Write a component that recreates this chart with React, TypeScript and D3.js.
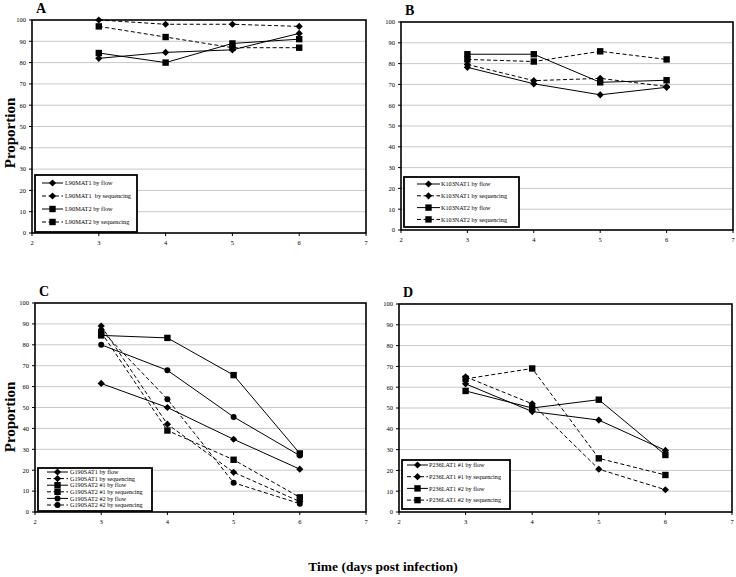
import React from "react";
import * as d3 from "d3";

const days = [3, 4, 5, 6];
const xTicks = [2, 3, 4, 5, 6, 7];
const yTicks = [0, 10, 20, 30, 40, 50, 60, 70, 80, 90, 100];

// Panel A
const namesA = ["L90MAT1 by flow", "L90MAT1  by sequencing", "L90MAT2 by flow", "L90MAT2 by sequencing"];
const a1Flow = [82, 84.8, 86, 93.7];
const a1Seq = [100, 98, 98, 97];
const a2Flow = [84.5, 80, 89, 91];
const a2Seq = [97, 92, 87, 87];

// Panel B
const namesB = ["K103NAT1 by flow", "K103NAT1 by sequencing", "K103NAT2 by flow", "K103NAT2 by sequencing"];
const b1Flow = [78.2, 70.3, 65, 68.6];
const b1Seq = [79.6, 71.8, 72.9, 69];
const b2Flow = [84.5, 84.5, 71, 72];
const b2Seq = [82, 81, 85.9, 82];

// Panel C
const namesC = [
  "G190SAT1 by flow",
  "G190SAT1 by sequencing",
  "G190SAT2 #1 by flow",
  "G190SAT2 #1 by sequencing",
  "G190SAT2 #2 by flow",
  "G190SAT2 #2 by sequencing",
];
const c1Flow = [61.5, 50, 34.8, 20.5];
const c1Seq = [89, 42, 19, 5];
const c2Flow = [84.5, 83.3, 65.5, 28];
const c2Seq = [86, 39, 25, 7];
const c3Flow = [80, 67.8, 45.5, 27];
const c3Seq = [87, 54, 14, 4];

// Panel D
const namesD = ["P236LAT1 #1 by flow", "P236LAT1 #1 by sequencing", "P236LAT1 #2 by flow", "P236LAT1 #2 by sequencing"];
const d1Flow = [61.6, 48.3, 44.2, 29.6];
const d1Seq = [65, 52, 20.6, 10.7];
const d2Flow = [58.2, 50, 54, 27.4];
const d2Seq = [64, 69, 25.8, 17.8];

type Marker = "diamond" | "square" | "circle";
type Series = { name: string; values: number[]; dashed: boolean; marker: Marker };

const mk = (names: string[], vals: number[][], markers: Marker[]): Series[] =>
  names.map((n, i) => ({ name: n, values: vals[i], dashed: i % 2 === 1, marker: markers[i] }));

const FONT = "'Liberation Serif', 'Times New Roman', serif";

function MarkerShape({ type, x, y }: { type: Marker; x: number; y: number }) {
  if (type === "diamond") {
    const s = 3.6;
    return <path d={`M${x},${y - s}L${x + s},${y}L${x},${y + s}L${x - s},${y}Z`} fill="#000" />;
  }
  if (type === "square") {
    const s = 3.2;
    return <rect x={x - s} y={y - s} width={2 * s} height={2 * s} fill="#000" />;
  }
  return <circle cx={x} cy={y} r={3} fill="#000" />;
}

type PanelProps = {
  label: string;
  left: number;
  right: number;
  top: number;
  bottom: number;
  series: Series[];
  legend: { x: number; y: number; w: number; h: number; rowH: number; fs: number; lineX0: number; lineX1: number; textX: number; firstRow: number };
};

function Panel({ label, left, right, top, bottom, series, legend }: PanelProps) {
  const x = d3.scaleLinear().domain([2, 7]).range([left, right]);
  const y = d3.scaleLinear().domain([0, 100]).range([bottom, top]);
  const line = d3
    .line<number>()
    .x((_, i) => x(days[i]))
    .y((v) => y(v));
  return (
    <g>
      {yTicks
        .filter((t) => t > 0 && t < 100)
        .map((t) => (
          <line key={t} x1={left} x2={right} y1={y(t)} y2={y(t)} stroke="#c8c8c8" strokeWidth={1} />
        ))}
      <rect x={left} y={top} width={right - left} height={bottom - top} fill="none" stroke="#000" strokeWidth={1.6} />
      {yTicks.map((t) => (
        <g key={t}>
          <line x1={left - 3} x2={left} y1={y(t)} y2={y(t)} stroke="#000" />
          <text x={left - 6} y={y(t) + 2.3} fontSize={6.5} textAnchor="end" fontFamily={FONT}>
            {t}
          </text>
        </g>
      ))}
      {xTicks.map((t) => (
        <g key={t}>
          <line x1={x(t)} x2={x(t)} y1={bottom} y2={bottom + 3} stroke="#000" />
          <text x={x(t)} y={bottom + 12} fontSize={6.5} textAnchor="middle" fontFamily={FONT}>
            {t}
          </text>
        </g>
      ))}
      <text x={left + 4} y={top - 7} fontSize={14} fontWeight="bold" fontFamily={FONT}>
        {label}
      </text>
      {series.map((s) => (
        <g key={s.name}>
          <path d={line(s.values) || ""} fill="none" stroke="#000" strokeWidth={1} strokeDasharray={s.dashed ? "4,2.5" : undefined} />
          {s.values.map((v, i) => (
            <MarkerShape key={i} type={s.marker} x={x(days[i])} y={y(v)} />
          ))}
        </g>
      ))}
      <rect x={legend.x} y={legend.y} width={legend.w} height={legend.h} fill="#fff" stroke="#000" strokeWidth={1.8} />
      {series.map((s, i) => {
        const ry = legend.firstRow + i * legend.rowH;
        return (
          <g key={s.name}>
            <line x1={legend.lineX0} x2={legend.lineX1} y1={ry} y2={ry} stroke="#000" strokeWidth={1} strokeDasharray={s.dashed ? "4,2.5" : undefined} />
            <MarkerShape type={s.marker} x={(legend.lineX0 + legend.lineX1) / 2} y={ry} />
            <text x={legend.textX} y={ry + 2.2} fontSize={legend.fs} fontFamily={FONT} style={{ whiteSpace: "pre" }}>
              {s.name}
            </text>
          </g>
        );
      })}
    </g>
  );
}

export default function App() {
  const dm: Marker[] = ["diamond", "diamond", "square", "square"];
  const sA = mk(namesA, [a1Flow, a1Seq, a2Flow, a2Seq], dm);
  const sB = mk(namesB, [b1Flow, b1Seq, b2Flow, b2Seq], dm);
  const sC = mk(namesC, [c1Flow, c1Seq, c2Flow, c2Seq, c3Flow, c3Seq], ["diamond", "diamond", "square", "square", "circle", "circle"]);
  const sD = mk(namesD, [d1Flow, d1Seq, d2Flow, d2Seq], dm);
  return (
    <svg width={736} height={577} style={{ position: "absolute", left: 0, top: 0, background: "#fff" }}>
      <rect x={0} y={0} width={736} height={577} fill="#fff" />
      <Panel
        label="A"
        left={32}
        right={366}
        top={20}
        bottom={233}
        series={sA}
        legend={{ x: 35, y: 175, w: 102, h: 57, rowH: 13, fs: 6.3, lineX0: 42, lineX1: 63, textX: 65, firstRow: 183 }}
      />
      <Panel
        label="B"
        left={401}
        right={733}
        top={22}
        bottom={230}
        series={sB}
        legend={{ x: 404, y: 177, w: 115, h: 50, rowH: 11.8, fs: 6.2, lineX0: 417, lineX1: 440, textX: 441, firstRow: 184 }}
      />
      <Panel
        label="C"
        left={35}
        right={366}
        top={303}
        bottom={512}
        series={sC}
        legend={{ x: 38, y: 468, w: 114, h: 43, rowH: 6.6, fs: 6.2, lineX0: 47, lineX1: 68, textX: 70, firstRow: 472 }}
      />
      <Panel
        label="D"
        left={399}
        right={732}
        top={304}
        bottom={512}
        series={sD}
        legend={{ x: 402, y: 460, w: 108, h: 49, rowH: 11.7, fs: 6.2, lineX0: 407, lineX1: 428, textX: 429, firstRow: 465 }}
      />
      <text transform="translate(15,133) rotate(-90)" textAnchor="middle" fontSize={15} fontWeight="bold" fontFamily={FONT}>
        Proportion
      </text>
      <text transform="translate(15,417) rotate(-90)" textAnchor="middle" fontSize={15} fontWeight="bold" fontFamily={FONT}>
        Proportion
      </text>
      <text x={383} y={571} textAnchor="middle" fontSize={13.5} fontWeight="bold" fontFamily={FONT}>
        Time (days post infection)
      </text>
    </svg>
  );
}
